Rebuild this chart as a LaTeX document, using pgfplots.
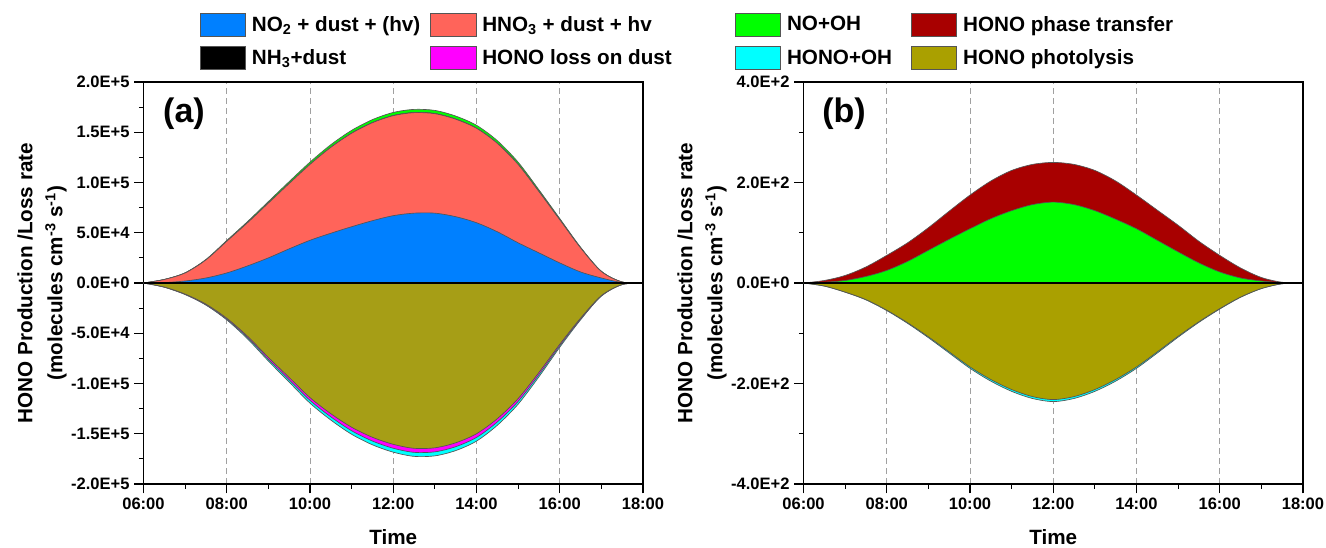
\documentclass[border=0pt]{standalone}
\usepackage{fontspec}
\setmainfont{Liberation Sans}
\usepackage{pgfplots}
\pgfplotsset{compat=1.18}
\usepackage{pgfplotstable}

\definecolor{cNOtwo}{RGB}{0,128,255}
\definecolor{cHNO}{RGB}{255,100,90}
\definecolor{cLoss}{RGB}{255,0,255}
\definecolor{cNOOH}{RGB}{0,255,0}
\definecolor{cHOH}{RGB}{0,255,255}
\definecolor{cPT}{RGB}{168,0,0}
\definecolor{cPhotA}{RGB}{166,158,22}
\definecolor{cPhotB}{RGB}{170,160,0}
\definecolor{cEdge}{RGB}{85,85,85}
\definecolor{cGrid}{RGB}{160,160,160}

\newcommand{\tickfont}{\fontsize{12.4}{14}\selectfont\bfseries}
\newcommand{\labfont}{\fontsize{15.5}{22.5}\selectfont\bfseries}

% panel (a): t, NO2+dust, HNO3+dust, NH3+dust, NO+OH, photolysis, loss on dust, HONO+OH
\pgfplotstableread{
t no2 hno3 nh3 nooh photo loss hooh
6.0 0 0 0 0 0 0 0
6.5 400 3100 5 60 4000 100 100
7.0 2000 8000 10 180 11000 270 270
7.5 5000 18000 30 410 21000 510 510
8.0 10000 31500 50 750 35000 850 850
8.5 17000 43000 70 1080 53000 1290 1290
9.0 25000 54500 100 1430 74000 1800 1800
9.5 34000 65000 120 1780 94000 2290 2290
10.0 42500 75500 140 2120 114000 2780 2780
10.5 49500 85500 160 2430 130000 3170 3170
11.0 56000 93000 180 2680 143500 3500 3500
11.5 62000 97500 190 2870 153500 3740 3740
12.0 67000 99500 200 3000 160500 3910 3910
12.5 69500 100000 200 3050 164500 4000 4000
13.0 69500 99000 200 3030 164000 4000 4000
13.5 66000 97000 190 2930 159000 3880 3880
14.0 60000 94000 180 2770 150000 3660 3660
14.5 51000 88000 160 2500 135000 3290 3290
15.0 40000 78000 140 2120 115000 2800 2800
15.5 30000 61000 110 1640 89000 2170 2170
16.0 20000 43000 80 1130 61000 1490 1490
16.5 11000 24000 40 630 35000 850 850
17.0 5000 6500 15 210 12500 300 300
17.5 500 500 0 20 1500 40 40
18.0 0 0 0 0 0 0 0
}\dataA

% panel (b): t, NO+OH, phase transfer, photolysis, HONO+OH
\pgfplotstableread{
t nooh pt photo hooh
6.0 0 0 0 0
6.5 1.5 3.5 6 0.1
7.0 5 10 18 0.3
7.5 13 19 33 0.6
8.0 25 30 54 0.9
8.5 43 37 79 1.3
9.0 65 45 107 1.8
9.5 87 56 137 2.3
10.0 108 67 167 2.8
10.5 128 75 192 3.3
11.0 144 80 212 3.6
11.5 156 80 226 3.8
12.0 161 79 232 4.0
12.5 156 80 226 3.8
13.0 144 80 212 3.6
13.5 127 76 192 3.3
14.0 108 67 167 2.8
14.5 85 60 137 2.3
15.0 62 53 106 1.8
15.5 40 43 77 1.3
16.0 22 33 51 0.9
16.5 10 20 28 0.5
17.0 4 7 11 0.2
17.5 0.5 1 1.5 0
18.0 0 0 0 0
}\dataB

\pgfplotsset{
  legend image code/.code={\draw[#1, draw=cEdge, line width=0.5pt] (0pt,-8.5pt) rectangle (34pt,8.5pt);},
  panel/.style={
    scale only axis, width=374.6pt, height=301.5pt,
    anchor=south west,
    xmin=6, xmax=18,
    xtick={6,8,10,12,14,16,18},
    xticklabels={06:00,08:00,10:00,12:00,14:00,16:00,18:00},
    minor xtick={7,9,11,13,15,17},
    scaled y ticks=false,
    tick align=outside, tick pos=left,
    major tick length=7pt, minor tick length=3.5pt,
    every tick/.append style={black, line width=0.9pt},
    axis line style={line width=1pt},
    xmajorgrids,
    major grid style={cGrid, line width=0.7pt, dash pattern=on 4.5pt off 3pt},
    ticklabel style={font=\tickfont},
    xlabel={Time},
    xlabel style={font=\labfont, at={(axis description cs:0.5,-0.132)}, anchor=center},
    ylabel={HONO Production /Loss rate\\(molecules cm\textsuperscript{-3} s\textsuperscript{-1})},
    ylabel style={font=\labfont, align=center, at={(axis description cs:-0.2032,0.5)}, anchor=center},
    legend columns=2,
    legend cell align=left,
    legend style={draw=none, fill=none, inner sep=0pt, outer sep=0pt,
      font=\labfont, anchor=north west, row sep=7.5pt, column sep=4.5pt,
      nodes={inner sep=0pt}},
  },
  area/.style={draw=cEdge, line width=0.5pt, smooth, forget plot},
}

\begin{document}
\begin{tikzpicture}
\path[use as bounding box] (0pt,0pt) rectangle (994.5pt,410.25pt);

% ---------------- panel (a)
\begin{axis}[panel, at={(107.625pt,47.25pt)},
  ymin=-200000, ymax=200000,
  ytick={-200000,-150000,-100000,-50000,0,50000,100000,150000,200000},
  yticklabels={-2.0E+5,-1.5E+5,-1.0E+5,-5.0E+4,0.0E+0,5.0E+4,1.0E+5,1.5E+5,2.0E+5},
  minor ytick={-175000,-125000,-75000,-25000,25000,75000,125000,175000},
  legend style={at={(axis description cs:0.1131,1.172)},
    /tikz/every even column/.append style={column sep=7.5pt}},
]
\addlegendimage{fill=cNOtwo}
\addlegendentry{NO\textsubscript{2} + dust + (hv)}
\addlegendimage{fill=cHNO}
\addlegendentry{HNO\textsubscript{3} + dust + hv}
\addlegendimage{fill=black}
\addlegendentry{NH\textsubscript{3}+dust}
\addlegendimage{fill=cLoss}
\addlegendentry{HONO loss on dust}

\addplot[area, fill=cNOOH] table[x=t, y expr=\thisrow{no2}+\thisrow{hno3}+\thisrow{nh3}+\thisrow{nooh}] {\dataA} \closedcycle;
\addplot[area, fill=black] table[x=t, y expr=\thisrow{no2}+\thisrow{hno3}+\thisrow{nh3}] {\dataA} \closedcycle;
\addplot[area, fill=cHNO] table[x=t, y expr=\thisrow{no2}+\thisrow{hno3}] {\dataA} \closedcycle;
\addplot[area, fill=cNOtwo] table[x=t, y=no2] {\dataA} \closedcycle;

\addplot[area, fill=cHOH] table[x=t, y expr=-\thisrow{photo}-\thisrow{loss}-\thisrow{hooh}] {\dataA} \closedcycle;
\addplot[area, fill=cLoss] table[x=t, y expr=-\thisrow{photo}-\thisrow{loss}] {\dataA} \closedcycle;
\addplot[area, fill=cPhotA] table[x=t, y expr=-\thisrow{photo}] {\dataA} \closedcycle;

\addplot[black, line width=1.5pt, forget plot] coordinates {(6,0) (18,0)};
\node[font=\fontsize{25.5}{30}\selectfont\bfseries] at (axis description cs:0.0811,0.920) {(a)};
\end{axis}

% ---------------- panel (b)
\begin{axis}[panel, at={(602.625pt,47.25pt)},
  ymin=-400, ymax=400,
  ytick={-400,-200,0,200,400},
  yticklabels={-4.0E+2,-2.0E+2,0.0E+0,2.0E+2,4.0E+2},
  minor ytick={-300,-100,100,300},
  legend style={at={(axis description cs:-0.1371,1.172)},
    /tikz/every even column/.append style={column sep=14.25pt}},
]
\addlegendimage{fill=cNOOH}
\addlegendentry{NO+OH}
\addlegendimage{fill=cPT}
\addlegendentry{HONO phase transfer}
\addlegendimage{fill=cHOH}
\addlegendentry{HONO+OH}
\addlegendimage{fill=cPhotB}
\addlegendentry{HONO photolysis}

\addplot[area, fill=cPT] table[x=t, y expr=\thisrow{nooh}+\thisrow{pt}] {\dataB} \closedcycle;
\addplot[area, fill=cNOOH] table[x=t, y=nooh] {\dataB} \closedcycle;

\addplot[area, fill=cHOH] table[x=t, y expr=-\thisrow{photo}-\thisrow{hooh}] {\dataB} \closedcycle;
\addplot[area, fill=cPhotB] table[x=t, y expr=-\thisrow{photo}] {\dataB} \closedcycle;

\addplot[black, line width=1.5pt, forget plot] coordinates {(6,0) (18,0)};
\node[font=\fontsize{25.5}{30}\selectfont\bfseries] at (axis description cs:0.0811,0.920) {(b)};
\end{axis}
\end{tikzpicture}
\end{document}
